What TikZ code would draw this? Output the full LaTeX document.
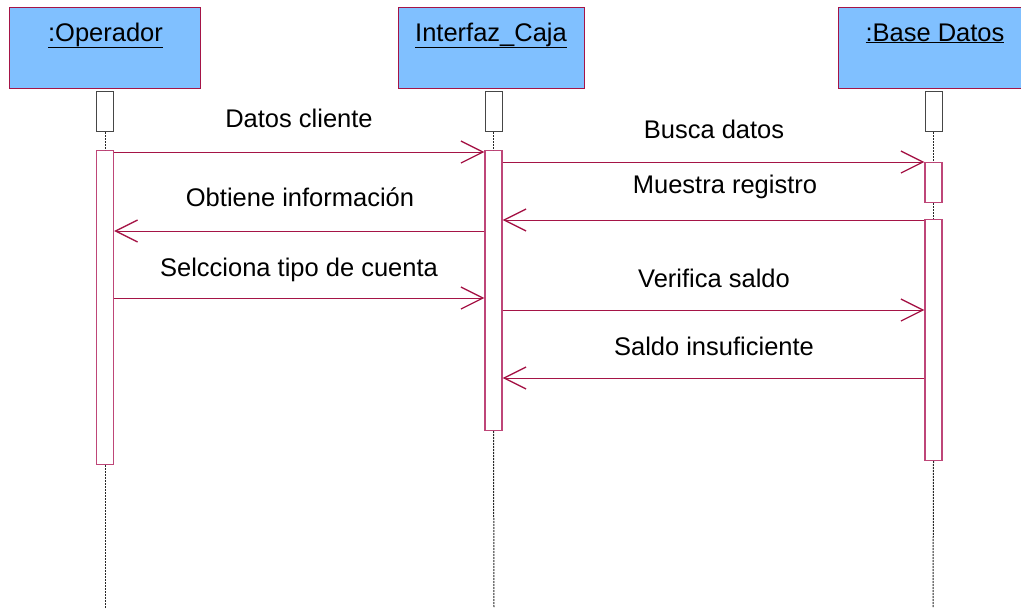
\documentclass[tikz,border=0pt]{standalone}
\usepackage{fontspec}
\setmainfont{Liberation Sans}
\usetikzlibrary{arrows.meta}
\definecolor{hdrfill}{RGB}{128,192,255}
\definecolor{crim}{RGB}{165,20,70}
\definecolor{actc}{RGB}{190,70,120}
\definecolor{lifec}{RGB}{70,70,70}
\definecolor{dotc}{RGB}{40,40,40}
\tikzset{
  header/.style={draw=crim, fill=hdrfill, line width=1.3pt, rectangle, inner sep=0pt, anchor=north west},
  hdrtext/.style={anchor=base, inner sep=0pt, font=\fontsize{25.5}{30}\selectfont},
  topbox/.style={draw=lifec, fill=white, line width=1pt, rectangle, inner sep=0pt, minimum width=17pt, minimum height=40pt, anchor=north},
  act/.style={draw=actc, fill=white, line width=1.2pt, rectangle, inner sep=0pt, minimum width=17pt, anchor=north},
  life/.style={draw=dotc, line width=1pt, dash pattern=on 2pt off 1pt},
  msg/.style={draw=crim, line width=1pt, -{Straight Barb[length=22pt,width=22pt,line width=1.3pt]}},
  lbl/.style={anchor=base, inner sep=0pt, font=\fontsize{25.5}{30}\selectfont},
}
\begin{document}
\begin{tikzpicture}[x=1pt,y=-1pt]
\useasboundingbox (0,0) rectangle (1021,608);
\begin{scope}
\clip (0,0) rectangle (1021,608);
% headers
\node[header, minimum width=191pt, minimum height=81pt] (hOp) at (9,7) {};
\node[header, minimum width=186pt, minimum height=81pt] (hIf) at (398,7) {};
\node[header, minimum width=194pt, minimum height=81pt] (hBd) at (838,7) {};
\end{scope}
\node[hdrtext] (tOp) at (105.5,41) {\underline{:Operador}};
\node[hdrtext] (tIf) at (491,41) {\underline{Interfaz\_Caja}};
\node[hdrtext] (tBd) at (935,41) {\underline{:Base Datos}};
% lifelines
\coordinate (eOp) at (105,608);
\coordinate (eIf) at (494,608);
\coordinate (eBd) at (933,608);
% top boxes
\node[topbox] (bOp) at (105,91) {};
\node[topbox] (bIf) at (493.5,91) {};
\node[topbox] (bBd) at (933.5,91) {};
% activations
\node[act, minimum height=314pt] (aOp) at (105,150) {};
\node[act, minimum height=280pt] (aIf) at (493.5,150) {};
\node[act, minimum height=40pt] (aBd1) at (933.5,162) {};
\node[act, minimum height=241pt] (aBd2) at (933.5,219) {};
\draw[life] (bOp.south) -- (aOp.north);
\draw[life] (aOp.south) -- (eOp);
\draw[life] (bIf.south) -- (aIf.north);
\draw[life] (aIf.south) -- (eIf);
\draw[life] (bBd.south) -- (aBd1.north);
\draw[life] (aBd1.south) -- (aBd2.north);
\draw[life] (aBd2.south) -- (eBd);
% messages
\draw[msg] (aOp.east |- 0,152) -- (aIf.west |- 0,152);
\node[lbl] (l1) at (299,127) {Datos cliente};
\draw[msg] (aIf.east |- 0,162) -- (aBd1.west |- 0,162);
\node[lbl] (l2) at (714,138) {Busca datos};
\draw[msg] (aBd2.west |- 0,220) -- (aIf.east |- 0,220);
\node[lbl] (l3) at (725,193) {Muestra registro};
\draw[msg] (aIf.west |- 0,231) -- (aOp.east |- 0,231);
\node[lbl] (l4) at (300,206) {Obtiene información};
\draw[msg] (aOp.east |- 0,298) -- (aIf.west |- 0,298);
\node[lbl] (l5) at (299,276) {Selcciona tipo de cuenta};
\draw[msg] (aIf.east |- 0,310) -- (aBd2.west |- 0,310);
\node[lbl] (l6) at (714,287) {Verifica saldo};
\draw[msg] (aBd2.west |- 0,378) -- (aIf.east |- 0,378);
\node[lbl] (l7) at (714,355) {Saldo insuficiente};
\end{tikzpicture}
\end{document}
